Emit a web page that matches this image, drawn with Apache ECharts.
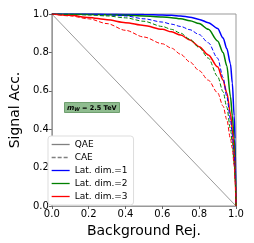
<!DOCTYPE html>
<html><head><meta charset="utf-8">
<script src="https://cdn.jsdelivr.net/npm/echarts@6/dist/echarts.min.js"></script>
<style>html,body{margin:0;padding:0;background:#fff}#c{width:254px;height:243px}</style>
</head><body><div id="c"></div>
<script>
const xs = [0, 0.1, 0.2, 0.3, 0.4, 0.5, 0.6, 0.65, 0.7, 0.75, 0.8, 0.85, 0.9, 0.93, 0.95, 0.97, 0.98, 0.99, 0.995, 1.0];
const qae = [[0, 1], [1, 0]];
const blueSolid  = [1, 1, 1, 0.999, 0.998, 0.997, 0.995, 0.993, 0.99, 0.983, 0.972, 0.955, 0.925, 0.875, 0.82, 0.74, 0.64, 0.47, 0.35, 0];
const greenSolid = [1, 0.999, 0.998, 0.996, 0.994, 0.99, 0.985, 0.981, 0.975, 0.965, 0.95, 0.92, 0.86, 0.80, 0.73, 0.57, 0.47, 0.35, 0.25, 0];
const blueDash   = [1, 0.999, 0.998, 0.996, 0.99, 0.975, 0.958, 0.947, 0.935, 0.918, 0.893, 0.85, 0.77, 0.67, 0.57, 0.45, 0.37, 0.26, 0.18, 0];
const greenDash  = [1, 0.998, 0.995, 0.99, 0.98, 0.962, 0.935, 0.92, 0.90, 0.868, 0.825, 0.77, 0.675, 0.595, 0.515, 0.40, 0.33, 0.22, 0.15, 0];
const redSolid   = [1, 0.993, 0.982, 0.97, 0.955, 0.94, 0.92, 0.907, 0.89, 0.865, 0.83, 0.787, 0.725, 0.655, 0.59, 0.48, 0.40, 0.28, 0.18, 0];
const redDash    = [1, 0.99, 0.975, 0.95, 0.915, 0.88, 0.845, 0.822, 0.79, 0.75, 0.705, 0.655, 0.59, 0.52, 0.45, 0.35, 0.30, 0.21, 0.135, 0];
const legendNames = ['QAE', 'CAE', 'Lat. dim.=1', 'Lat. dim.=2', 'Lat. dim.=3'];

const pair = ys => xs.map((x, i) => [x, ys[i]]);
function line(name, ys, color, dashed) {
  return {
    type: 'line', name: name, data: pair(ys), symbol: 'none', smooth: 0.3, smoothMonotone: 'x',
    lineStyle: { color: color, width: dashed ? 1 : 1.5, type: dashed ? [4, 2] : 'solid' },
    itemStyle: { color: color }, z: 3
  };
}
const chart = echarts.init(document.getElementById('c'));
chart.setOption({
  animation: false,
  title: {
    text: '{m|m}{s|W}{n| = 2.5 TeV}',
    left: 64, top: 102,
    backgroundColor: '#8fbc8f', borderColor: '#6f9f6f', borderWidth: 1, padding: [2, 3, 1, 3],
    textStyle: {
      rich: {
        m: { fontStyle: 'italic', fontSize: 7, fontFamily: 'DejaVu Sans', color: '#000' },
        s: { fontStyle: 'italic', fontSize: 5, fontFamily: 'DejaVu Sans', color: '#000', verticalAlign: 'bottom', padding: [3, 0, 0, 0] },
        n: { fontSize: 6.5, fontWeight: 'bold', fontFamily: 'DejaVu Sans', color: '#000' }
      }
    }
  },
  grid: { left: 42, right: 18, top: 14, bottom: 37, show: true, borderColor: '#999', borderWidth: 1 },
  legend: {
    data: legendNames, orient: 'vertical', left: 48, top: 136,
    itemWidth: 18, itemHeight: 8, itemGap: 4,
    itemStyle: { opacity: 0 },
    lineStyle: { width: 1.3 },
    backgroundColor: '#fff', borderColor: '#ddd', borderWidth: 1, borderRadius: 3,
    padding: [4, 6, 4, 3],
    textStyle: { fontSize: 9, fontFamily: 'DejaVu Sans', color: '#000' }
  },
  xAxis: {
    type: 'value', min: 0, max: 1, interval: 0.2,
    name: 'Background Rej.', nameLocation: 'middle', nameGap: 18,
    nameTextStyle: { fontSize: 14, fontFamily: 'DejaVu Sans', color: '#000' },
    axisLine: { show: true, lineStyle: { color: '#999' } },
    axisTick: { show: true, length: 3, lineStyle: { color: '#666' } },
    axisLabel: { fontSize: 10, fontFamily: 'DejaVu Sans', color: '#000', margin: 3, formatter: v => v.toFixed(1) },
    splitLine: { show: false }
  },
  yAxis: {
    type: 'value', min: 0, max: 1, interval: 0.2,
    name: 'Signal Acc.', nameLocation: 'middle', nameGap: 26,
    nameTextStyle: { fontSize: 14, fontFamily: 'DejaVu Sans', color: '#000' },
    axisLine: { show: true, lineStyle: { color: '#999' } },
    axisTick: { show: true, length: 3, lineStyle: { color: '#666' } },
    axisLabel: { fontSize: 10, fontFamily: 'DejaVu Sans', color: '#000', margin: 3, formatter: v => v.toFixed(1) },
    splitLine: { show: false }
  },
  series: [
    { type: 'line', name: 'QAE', data: qae, symbol: 'none', lineStyle: { color: '#808080', width: 0.8 }, itemStyle: { color: '#808080' }, z: 2 },
    { type: 'line', name: 'CAE', data: [], symbol: 'none', lineStyle: { color: '#808080', width: 1, type: [4, 2] }, itemStyle: { color: '#808080' } },
    line('Lat. dim.=1', blueSolid, '#0000ff', false),
    line('Lat. dim.=2', greenSolid, '#008000', false),
    line('Lat. dim.=3', redSolid, '#ff0000', false),
    line('Lat. dim.=1', blueDash, '#0000ff', true),
    line('Lat. dim.=2', greenDash, '#008000', true),
    line('Lat. dim.=3', redDash, '#ff0000', true)
  ]
});
</script>
</body></html>
